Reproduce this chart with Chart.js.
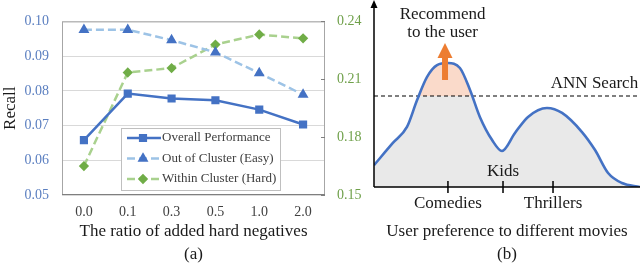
<!DOCTYPE html>
<html>
<head>
<meta charset="utf-8">
<script src="https://cdn.jsdelivr.net/npm/chart.js@4.4.1/dist/chart.umd.min.js"></script>
<style>
    body { margin: 0; background: #fff; }
    #wrap { position: relative; width: 640px; height: 268px; overflow: hidden; }
    canvas { position: absolute; top: 0; }
    #left { left: 0; }
    #right { left: 365px; }
</style>
</head>
<body>
<div id="wrap">
    <canvas id="left" width="365" height="268"></canvas>
    <canvas id="right" width="275" height="268"></canvas>
</div>
<script>
// (a) recall vs ratio of hard negatives
const ratios = ['0.0', '0.1', '0.3', '0.5', '1.0', '2.0'];
const overallRecall = [0.0658, 0.0792, 0.0778, 0.0773, 0.0746, 0.0703];
const easyRecall = [0.0976, 0.0976, 0.0946, 0.0911, 0.0851, 0.0789];
const hardRecall = [0.165, 0.2135, 0.2158, 0.228, 0.2332, 0.2312];   // right axis

// (b) user preference curve
const prefX = [0, 7.1, 12.4, 16.2, 19.9, 23.7, 27.8, 32.3, 36.1, 39.8, 44.4, 48.1, 53.0, 57.9, 65.0, 70.7, 78.2, 83.1, 88.0, 93.2, 100];
const prefY = [12, 24.2, 33.0, 47.8, 60.4, 67.0, 68.1, 65.4, 53.3, 38.5, 25.8, 19.8, 29.7, 38.5, 43.4, 40.7, 30.2, 20.3, 7.7, 2.2, 0];
const annLevel = 50;
const movieTicks = [27.8, 48.5, 67.3];
const movieNames = ['Comedies', 'Kids', 'Thrillers'];

const SERIF = '"Liberation Serif", "Times New Roman", serif';
Chart.defaults.font.family = SERIF;
Chart.defaults.color = '#262626';

// frame around the plot + small inward ticks on the right axis
const framePlugin = {
    id: 'frame',
    beforeDatasetsDraw(chart) {
        const {ctx, chartArea: a} = chart;
        ctx.save();
        ctx.strokeStyle = '#A6A6A6';
        ctx.lineWidth = 1;
        ctx.strokeRect(a.left + 0.5, a.top + 0.5, a.right - a.left - 1, a.bottom - a.top - 1);
        ctx.strokeStyle = '#7F7F7F';
        ctx.beginPath();
        ctx.moveTo(a.left, a.bottom - 0.5);
        ctx.lineTo(a.right, a.bottom - 0.5);
        const y1 = chart.scales.y1;
        y1.ticks.forEach(t => {
            const py = Math.round(y1.getPixelForValue(t.value)) + 0.5;
            ctx.moveTo(a.right - 4, py);
            ctx.lineTo(a.right, py);
        });
        ctx.stroke();
        ctx.restore();
    }
};

// legend box with line + marker samples
const boxLegend = {
    id: 'boxLegend',
    afterDatasetsDraw(chart) {
        const ctx = chart.ctx;
        const bx = 121, by = 128, bw = 159, bh = 62;
        ctx.save();
        ctx.fillStyle = '#fff';
        ctx.fillRect(bx, by, bw, bh);
        ctx.strokeStyle = '#BFBFBF';
        ctx.lineWidth = 1;
        ctx.strokeRect(bx + 0.5, by + 0.5, bw, bh);
        chart.data.datasets.forEach((ds, i) => {
            const y = by + 10 + i * 20.5;
            ctx.strokeStyle = ds.borderColor;
            ctx.lineWidth = ds.borderWidth;
            ctx.setLineDash(ds.borderDash || []);
            ctx.beginPath();
            ctx.moveTo(bx + 6, y);
            ctx.lineTo(bx + 40, y);
            ctx.stroke();
            ctx.setLineDash([]);
            ctx.fillStyle = ds.pointBackgroundColor;
            ctx.strokeStyle = ds.pointBackgroundColor;
            Chart.helpers.drawPoint(ctx, {
                pointStyle: ds.pointStyle, radius: ds.pointRadius, rotation: 0, borderWidth: 1
            }, bx + 22, y);
            ctx.fillStyle = '#404040';
            ctx.font = '13px ' + SERIF;
            ctx.textBaseline = 'middle';
            ctx.fillText(ds.label, bx + 41, y);
        });
        ctx.restore();
    }
};

new Chart(document.getElementById('left'), {
    type: 'line',
    data: {
        labels: ratios,
        datasets: [
            {
                label: 'Overall Performance',
                data: overallRecall,
                yAxisID: 'y',
                borderColor: '#4472C4',
                borderWidth: 2.5,
                pointStyle: 'rect',
                pointRadius: 4,
                pointBackgroundColor: '#4472C4',
                pointBorderColor: '#4472C4'
            },
            {
                label: 'Out of Cluster (Easy)',
                data: easyRecall,
                yAxisID: 'y',
                borderColor: '#9DC3E6',
                borderWidth: 2.5,
                borderDash: [8, 4],
                pointStyle: 'triangle',
                pointRadius: 3.8,
                pointBackgroundColor: '#4472C4',
                pointBorderColor: '#4472C4'
            },
            {
                label: 'Within Cluster (Hard)',
                data: hardRecall,
                yAxisID: 'y1',
                borderColor: '#A9D18E',
                borderWidth: 2.5,
                borderDash: [8, 4],
                pointStyle: 'rectRot',
                pointRadius: 3.4,
                pointBackgroundColor: '#70AD47',
                pointBorderColor: '#70AD47'
            }
        ]
    },
    options: {
        responsive: false,
        animation: false,
        devicePixelRatio: 1,
        layout: { padding: { top: 13, left: 0, right: 0, bottom: 0 } },
        plugins: { legend: { display: false }, tooltip: { enabled: false } },
        scales: {
            x: {
                offset: true,
                grid: { display: false, drawTicks: false },
                border: { display: false },
                ticks: { color: '#404040', font: { size: 14 }, padding: 9 },
                title: {
                    display: true,
                    text: ['The ratio of added hard negatives', '(a)'],
                    color: '#1A1A1A',
                    font: { size: 17, lineHeight: 23 / 17 },
                    padding: { top: 0, bottom: 1.5 }
                },
                afterFit(scale) { scale.height = 73; }
            },
            y: {
                position: 'left',
                min: 0.05,
                max: 0.10,
                grid: { color: '#D9D9D9', drawTicks: false },
                border: { display: false },
                ticks: {
                    stepSize: 0.01,
                    color: '#5B7FC0',
                    font: { size: 14 },
                    padding: 13,
                    callback: v => v.toFixed(2)
                },
                title: {
                    display: true,
                    text: 'Recall',
                    color: '#1A1A1A',
                    font: { size: 17 },
                    padding: 0
                },
                afterFit(scale) { scale.width = 62; }
            },
            y1: {
                position: 'right',
                min: 0.15,
                max: 0.24,
                grid: { display: false, drawTicks: false },
                border: { display: false },
                ticks: {
                    stepSize: 0.03,
                    color: '#6FA04A',
                    font: { size: 14 },
                    padding: 12,
                    callback: v => v.toFixed(2)
                },
                afterFit(scale) { scale.width = 40; }
            }
        }
    },
    plugins: [framePlugin, boxLegend]
});

// axes with arrow, tick marks, labels and the orange arrow for (b)
const sketchPlugin = {
    id: 'sketch',
    afterDatasetsDraw(chart) {
        const {ctx, chartArea: a, scales: {x, y}} = chart;
        ctx.save();
        ctx.strokeStyle = '#000';
        ctx.fillStyle = '#000';
        ctx.lineWidth = 1.5;
        ctx.beginPath();
        ctx.moveTo(a.left, a.bottom);
        ctx.lineTo(a.left, 4);
        ctx.moveTo(a.left, a.bottom);
        ctx.lineTo(a.right, a.bottom);
        movieTicks.forEach(v => {
            const px = x.getPixelForValue(v);
            ctx.moveTo(px, a.bottom - 6);
            ctx.lineTo(px, a.bottom + 6);
        });
        ctx.stroke();
        ctx.beginPath();
        ctx.moveTo(a.left, 0);
        ctx.lineTo(a.left - 3.5, 8);
        ctx.lineTo(a.left + 3.5, 8);
        ctx.closePath();
        ctx.fill();

        // orange arrow
        const ax = x.getPixelForValue(26.7);
        const yBase = y.getPixelForValue(58.8);
        const yNeck = y.getPixelForValue(70.9);
        const yTip = y.getPixelForValue(79.1);
        ctx.fillStyle = '#ED7D31';
        ctx.fillRect(ax - 3, yNeck - 1, 6, yBase - yNeck + 1);
        ctx.beginPath();
        ctx.moveTo(ax, yTip);
        ctx.lineTo(ax - 7.5, yNeck);
        ctx.lineTo(ax + 7.5, yNeck);
        ctx.closePath();
        ctx.fill();

        // texts
        ctx.fillStyle = '#1A1A1A';
        ctx.font = '17px ' + SERIF;
        ctx.textBaseline = 'middle';
        ctx.textAlign = 'center';
        ctx.fillText('Recommend', x.getPixelForValue(25.8), y.getPixelForValue(94.5));
        ctx.fillText('to the user', x.getPixelForValue(25.8), y.getPixelForValue(84.6));
        ctx.fillText(movieNames[1], x.getPixelForValue(movieTicks[1]), a.bottom - 15);
        ctx.textAlign = 'right';
        ctx.fillText('ANN Search', x.getPixelForValue(99.3), y.getPixelForValue(57.1));
        ctx.restore();
    }
};

const prefPoints = prefX.map((v, i) => ({x: v, y: prefY[i]}));

new Chart(document.getElementById('right'), {
    type: 'line',
    data: {
        datasets: [
            {
                data: prefPoints,
                order: 4,
                borderWidth: 0,
                pointRadius: 0,
                cubicInterpolationMode: 'monotone',
                fill: 'origin',
                backgroundColor: '#E9E9E9'
            },
            {
                data: prefPoints,
                order: 3,
                borderWidth: 0,
                pointRadius: 0,
                cubicInterpolationMode: 'monotone',
                fill: { target: { value: annLevel }, above: '#FADACA', below: 'rgba(0,0,0,0)' }
            },
            {
                data: [{x: 0, y: annLevel}, {x: 100, y: annLevel}],
                order: 2,
                borderColor: '#000',
                borderWidth: 1.2,
                borderDash: [4, 3],
                pointRadius: 0,
                fill: false
            },
            {
                data: prefPoints,
                order: 1,
                borderColor: '#4472C4',
                borderWidth: 2.6,
                pointRadius: 0,
                cubicInterpolationMode: 'monotone',
                fill: false
            }
        ]
    },
    options: {
        responsive: false,
        animation: false,
        devicePixelRatio: 1,
        layout: { padding: { top: 5, left: 9, right: 0, bottom: 0 } },
        plugins: { legend: { display: false }, tooltip: { enabled: false } },
        scales: {
            x: {
                type: 'linear',
                min: 0,
                max: 100,
                grid: { display: false, drawTicks: false },
                border: { display: false },
                afterBuildTicks(scale) { scale.ticks = movieTicks.map(v => ({value: v})); },
                ticks: {
                    autoSkip: false,
                    maxRotation: 0,
                    color: '#1A1A1A',
                    font: { size: 17 },
                    padding: 6,
                    callback: (v, i) => (i === 1 ? '' : movieNames[i])
                },
                title: {
                    display: true,
                    text: ['User preference to different movies', '(b)'],
                    color: '#1A1A1A',
                    font: { size: 17, lineHeight: 23 / 17 },
                    padding: { top: 0, bottom: 1.5 }
                },
                afterFit(scale) { scale.height = 81; }
            },
            y: { type: 'linear', min: 0, max: 100, display: false }
        }
    },
    plugins: [sketchPlugin]
});
</script>
</body>
</html>
